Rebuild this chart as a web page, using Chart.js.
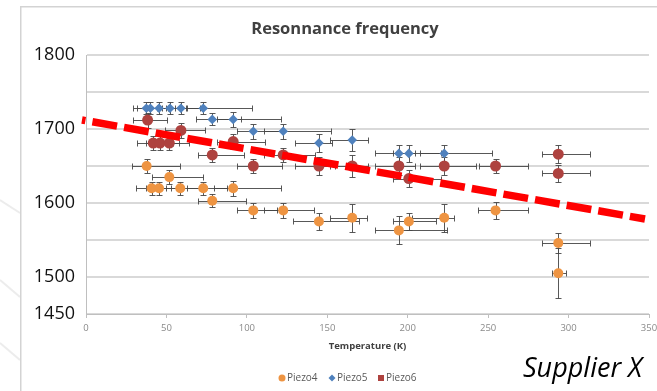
<!DOCTYPE html>
<html><head><meta charset="utf-8">
<script src="https://cdn.jsdelivr.net/npm/chart.js@4.4.1/dist/chart.umd.min.js"></script>
<style>
html,body{margin:0;padding:0;background:#fff;}
#wrap{position:relative;width:657px;height:391px;}
canvas{display:block;}
</style></head><body>
<div id="wrap"><canvas id="c" width="657" height="391"></canvas></div>
<script>
// ---- text ----
const chartTitle = 'Resonnance frequency';
const xAxisTitle = 'Temperature (K)';
const noteText = 'Supplier X';
const seriesNames = ['Piezo4', 'Piezo5', 'Piezo6'];

// ---- axes ----
const xTicks = [0, 50, 100, 150, 200, 250, 300, 350];
const yGrid = [1450, 1500, 1550, 1600, 1650, 1700, 1750, 1800];
const yTickLabels = [1450, 1500, 1600, 1700, 1800];

// ---- Piezo4 ----
const p4Temp = [37.7, 40.8, 45.4, 51.8, 58.6, 72.9, 78.5, 91.5, 104, 122.6, 144.8, 165.5, 194.5, 200.7, 222.7, 254.6, 293.6, 293.6];
const p4Freq = [1650, 1620, 1620, 1635, 1620, 1620, 1603, 1620, 1590, 1590, 1575, 1580, 1563, 1575, 1580, 1590, 1546, 1505];
const p4TempErrLow = [9, 10, 8, 11, 9, 10, 9, 12, 10, 12, 16, 14, 15, 10, 20, 11, 10, 4];
const p4TempErrHigh = [21, 12, 12, 21, 15, 15, 21, 30, 15, 19, 25, 9, 30, 17, 6, 20, 20, 5];
const p4FreqErr = [9, 9, 9, 9, 9, 9, 9, 10, 10, 10, 12, 19, 19, 12, 19, 12, 13, 34];

// ---- Piezo5 ----
const p5Temp = [37.5, 40.0, 45.4, 52.2, 59.0, 72.9, 78.5, 91.5, 104, 122.6, 144.8, 165.5, 194.5, 200.7, 222.7];
const p5Freq = [1728, 1728, 1728, 1728, 1728, 1728, 1713, 1713, 1697, 1697, 1681, 1685, 1667, 1667, 1667];
const p5TempErrLow = [8, 8, 8, 8, 8, 10, 10, 10, 10, 12, 15, 14, 15, 10, 15];
const p5TempErrHigh = [10, 10, 10, 10, 12, 30, 18, 30, 18, 30, 8, 10, 10, 20, 30];
const p5FreqErr = [8, 8, 8, 8, 8, 8, 8, 10, 10, 10, 12, 15, 12, 12, 12];

// ---- Piezo6 ----
const p6Temp = [38.3, 41.8, 46.0, 51.8, 59.0, 78.5, 91.5, 104, 122.6, 144.8, 165.5, 194.5, 200.7, 222.7, 254.6, 293.6, 293.6];
const p6Freq = [1712, 1681, 1681, 1681, 1698, 1665, 1683, 1650, 1665, 1650, 1650, 1650, 1633, 1650, 1650, 1666, 1640];
const p6TempErrLow = [9, 10, 9, 10, 10, 9, 10, 10, 12, 15, 14, 15, 10, 15, 10, 10, 10];
const p6TempErrHigh = [12, 12, 12, 12, 15, 20, 20, 18, 20, 10, 10, 10, 20, 20, 20, 20, 20];
const p6FreqErr = [10, 10, 10, 10, 10, 10, 10, 10, 10, 12, 15, 12, 12, 12, 10, 12, 12];

// ---- overlaid trend line ----
const trendTemp = [-2.5, 347.5];
const trendFreq = [1712.2, 1578.4];

const colors = ['#EE9442', '#4F81BD', '#AE423F'];

function pts(xs, ys) { return xs.map((v, i) => ({x: v, y: ys[i]})); }
function errs(lo, hi, ye) { return lo.map((v, i) => ({xLow: v, xHigh: hi[i], y: ye[i]})); }

const errorBarPlugin = {
  id: 'errorBars',
  beforeDatasetsDraw(chart) {
    const {ctx, scales: {x, y}} = chart;
    ctx.save();
    ctx.strokeStyle = 'rgba(70,70,70,0.9)';
    ctx.lineWidth = 1;
    const cap = 3;
    chart.data.datasets.forEach(ds => {
      if (!ds.errors) return;
      ds.data.forEach((p, j) => {
        const e = ds.errors[j];
        const px = Math.round(x.getPixelForValue(p.x)) + 0.5;
        const py = Math.round(y.getPixelForValue(p.y)) + 0.5;
        const xl = Math.round(x.getPixelForValue(p.x - e.xLow)) + 0.5;
        const xr = Math.round(x.getPixelForValue(p.x + e.xHigh)) + 0.5;
        const yt = Math.round(y.getPixelForValue(p.y + e.y)) + 0.5;
        const yb = Math.round(y.getPixelForValue(p.y - e.y)) + 0.5;
        ctx.beginPath();
        ctx.moveTo(xl, py); ctx.lineTo(xr, py);
        ctx.moveTo(xl, py - cap); ctx.lineTo(xl, py + cap);
        ctx.moveTo(xr, py - cap); ctx.lineTo(xr, py + cap);
        ctx.moveTo(px, yt); ctx.lineTo(px, yb);
        ctx.moveTo(px - cap, yt); ctx.lineTo(px + cap, yt);
        ctx.moveTo(px - cap, yb); ctx.lineTo(px + cap, yb);
        ctx.stroke();
      });
    });
    ctx.restore();
  }
};

const framePlugin = {
  id: 'frame',
  beforeDraw(chart) {
    const ctx = chart.ctx;
    ctx.save();
    ctx.fillStyle = '#ffffff';
    ctx.fillRect(0, 0, chart.width, chart.height);
    // faint slide decoration on the far left
    ctx.strokeStyle = 'rgba(200,200,200,0.35)';
    ctx.lineWidth = 2;
    [[0, 200, 20, 213], [0, 280, 20, 297], [0, 343, 20, 360]].forEach(l => {
      ctx.beginPath(); ctx.moveTo(l[0], l[1]); ctx.lineTo(l[2], l[3]); ctx.stroke();
    });
    // chart frame
    ctx.strokeStyle = '#d3d3d3';
    ctx.lineWidth = 1.5;
    ctx.beginPath();
    ctx.moveTo(20.75, chart.height);
    ctx.lineTo(20.75, 6.75);
    ctx.lineTo(chart.width, 6.75);
    ctx.stroke();
    ctx.restore();
  },
  afterDraw(chart) {
    const ctx = chart.ctx;
    ctx.save();
    // title
    ctx.fillStyle = '#404040';
    ctx.font = 'bold 16.5px "Open Sans"';
    ctx.textAlign = 'center';
    ctx.textBaseline = 'alphabetic';
    ctx.fillText(chartTitle, 345, 34);
    // legend
    const ly = 378;
    ctx.font = '10px "Open Sans"';
    ctx.textAlign = 'left';
    ctx.textBaseline = 'middle';
    const items = [
      {x: 282, shape: 'circle'},
      {x: 332, shape: 'diamond'},
      {x: 381, shape: 'square'}
    ];
    items.forEach((it, i) => {
      ctx.fillStyle = colors[i];
      ctx.beginPath();
      if (it.shape === 'circle') ctx.arc(it.x, ly, 3.5, 0, Math.PI * 2);
      else if (it.shape === 'diamond') {
        ctx.moveTo(it.x, ly - 3.5); ctx.lineTo(it.x + 3.5, ly); ctx.lineTo(it.x, ly + 3.5); ctx.lineTo(it.x - 3.5, ly); ctx.closePath();
      } else ctx.rect(it.x - 3, ly - 3, 6, 6);
      ctx.fill();
      ctx.fillStyle = '#595959';
      ctx.fillText(seriesNames[i], it.x + 5, ly);
    });
    // supplier note
    ctx.fillStyle = '#000000';
    ctx.font = 'italic 27px "Open Sans"';
    ctx.textAlign = 'left';
    ctx.textBaseline = 'alphabetic';
    ctx.fillText(noteText, 523, 377);
    ctx.restore();
  }
};

const scatterCommon = {borderWidth: 0, pointHoverRadius: 5, showLine: false};

new Chart(document.getElementById('c'), {
  type: 'scatter',
  data: {
    datasets: [
      {
        label: 'trend', data: pts(trendTemp, trendFreq), showLine: true,
        borderColor: '#FF0000', backgroundColor: '#FF0000', borderWidth: 7.5,
        borderDash: [25, 7.1], borderDashOffset: 21.5, pointRadius: 0, clip: false, order: 0
      },
      Object.assign({
        label: seriesNames[2], data: pts(p6Temp, p6Freq), errors: errs(p6TempErrLow, p6TempErrHigh, p6FreqErr),
        backgroundColor: colors[2], borderColor: colors[2], pointRadius: 5.5, pointStyle: 'circle', order: 1
      }, scatterCommon),
      Object.assign({
        label: seriesNames[1], data: pts(p5Temp, p5Freq), errors: errs(p5TempErrLow, p5TempErrHigh, p5FreqErr),
        backgroundColor: colors[1], borderColor: colors[1], pointRadius: 4.8, pointStyle: 'rectRot', order: 2
      }, scatterCommon),
      Object.assign({
        label: seriesNames[0], data: pts(p4Temp, p4Freq), errors: errs(p4TempErrLow, p4TempErrHigh, p4FreqErr),
        backgroundColor: colors[0], borderColor: colors[0], pointRadius: 5, pointStyle: 'circle', order: 3
      }, scatterCommon)
    ]
  },
  options: {
    responsive: false,
    animation: false,
    devicePixelRatio: 1,
    layout: {padding: {left: 21, top: 55, right: 8, bottom: 0}},
    plugins: {legend: {display: false}, title: {display: false}, tooltip: {enabled: false}},
    scales: {
      x: {
        type: 'linear', min: 0, max: 350,
        afterBuildTicks: (a) => { a.ticks = xTicks.map(v => ({value: v})); },
        afterFit: (s) => { s.height = 77; s.paddingLeft = 0; s.paddingRight = 0; },
        grid: {display: true, drawOnChartArea: false, drawTicks: true, tickLength: 4, color: '#bfbfbf'},
        border: {display: true, color: '#bfbfbf', width: 1},
        ticks: {autoSkip: false, maxRotation: 0, padding: 5, color: '#8a8a8a', font: {family: 'Open Sans', size: 9.5}},
        title: {display: true, text: xAxisTitle, color: '#404040', font: {family: 'Open Sans', size: 9.5, weight: 'bold'}, padding: {top: 0, bottom: 39}}
      },
      y: {
        type: 'linear', min: 1450, max: 1800,
        afterBuildTicks: (a) => { a.ticks = yGrid.map(v => ({value: v})); },
        afterFit: (s) => { s.width = 65; },
        grid: {display: true, drawTicks: false, color: '#d9d9d9', lineWidth: 2},
        border: {display: true, color: '#bfbfbf', width: 1},
        ticks: {
          autoSkip: false, padding: 11, color: '#111111',
          font: {family: 'Open Sans', size: 18},
          callback: (v) => yTickLabels.includes(v) ? String(v) : ''
        }
      }
    }
  },
  plugins: [framePlugin, errorBarPlugin]
});
</script>
</body></html>
